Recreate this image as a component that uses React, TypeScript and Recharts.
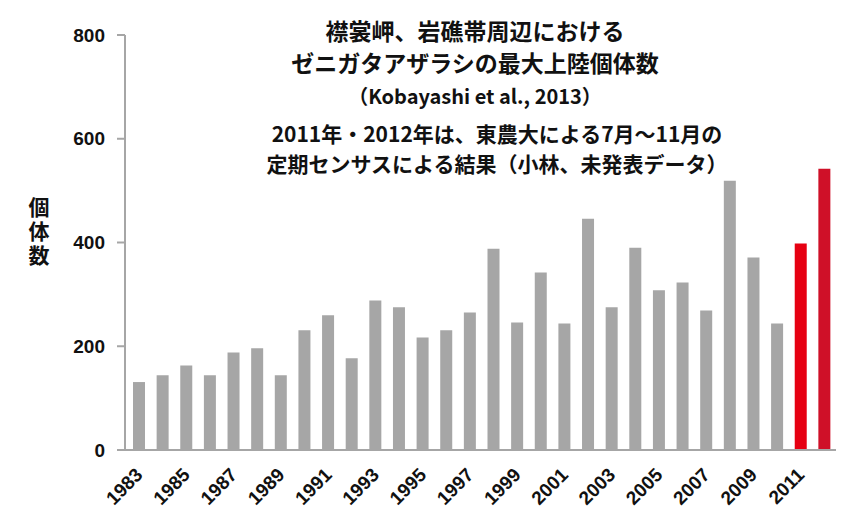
import React from "react";
import { BarChart, Bar, XAxis, YAxis, Cell } from "recharts";

const years = [
  "1983", "1984", "1985", "1986", "1987", "1988", "1989", "1990", "1991", "1992",
  "1993", "1994", "1995", "1996", "1997", "1998", "1999", "2000", "2001", "2002",
  "2003", "2004", "2005", "2006", "2007", "2008", "2009", "2010", "2011", "2012",
];

const counts = [
  131, 144, 163, 144, 188, 196, 144, 231, 260, 177,
  288, 275, 217, 231, 265, 388, 246, 342, 244, 446,
  275, 390, 308, 323, 269, 519, 371, 244, 398, 542,
];

// 2011-2012 are the 東農大 census values (drawn red)
const barColors: Record<string, string> = {
  "2011": "#e60012",
  "2012": "#cf1028",
};

const yTicks = [0, 200, 400, 600, 800];

const titleLines = [
  "襟裳岬、岩礁帯周辺における",
  "ゼニガタアザラシの最大上陸個体数",
  "（Kobayashi et al., 2013）",
];

const noteLines = [
  "2011年・2012年は、東農大による7月～11月の",
  "定期センサスによる結果（小林、未発表データ）",
];

const data = years.map((year, i) => ({ year, count: counts[i] }));

const jp = '"Noto Sans CJK JP", "Noto Sans", sans-serif';
const num = '"Liberation Sans", Arial, sans-serif';

const YearTick = (props: any) => {
  const { x, y, payload } = props;
  return (
    <g transform={`translate(${x + 5},${y + 24})`}>
      <text
        textAnchor="end"
        transform="rotate(-45)"
        fontFamily={num}
        fontWeight="bold"
        fontSize={19}
        fill="#111"
      >
        {payload.value}
      </text>
    </g>
  );
};

export default function App() {
  return (
    <div
      style={{
        position: "relative",
        width: 853,
        height: 530,
        marginLeft: -8,
        marginTop: -8,
        background: "#fff",
        overflow: "hidden",
      }}
    >
      <BarChart
        width={853}
        height={530}
        data={data}
        margin={{ top: 35, right: 17, bottom: 0, left: 0 }}
      >
        <XAxis
          dataKey="year"
          interval={1}
          height={80}
          padding={{ left: 2 }}
          axisLine={{ stroke: "#a6a6a6", strokeWidth: 2 }}
          tickLine={false}
          tickSize={0}
          tick={<YearTick />}
        />
        <YAxis
          width={125}
          domain={[0, 800]}
          ticks={yTicks}
          axisLine={{ stroke: "#a6a6a6", strokeWidth: 2 }}
          tickLine={{ stroke: "#a6a6a6", strokeWidth: 2 }}
          tickSize={8}
          tickMargin={12}
          tick={{ fontFamily: num, fontWeight: "bold", fontSize: 19, fill: "#111" }}
        />
        <Bar dataKey="count" barSize={12} isAnimationActive={false}>
          {data.map((d) => (
            <Cell key={d.year} fill={barColors[d.year] ?? "#a6a6a6"} />
          ))}
        </Bar>
      </BarChart>

      {/* frame lines */}
      <div style={{ position: "absolute", left: 0, top: 1, width: 853, height: 3, background: "#000" }} />
      <div style={{ position: "absolute", left: 5, top: 0, width: 2, height: 530, background: "#000" }} />

      {/* y axis title, vertical */}
      <div
        style={{
          position: "absolute",
          left: 26,
          top: 197,
          width: 26,
          height: 76,
          writingMode: "vertical-rl",
          fontFamily: jp,
          fontWeight: "bold",
          fontSize: 21,
          lineHeight: "26px",
          letterSpacing: 3,
          color: "#111",
        }}
      >
        個体数
      </div>

      {/* title block */}
      {titleLines.map((t, i) => (
        <div
          key={t}
          style={{
            position: "absolute",
            left: 225,
            width: 500,
            top: [17, 49, 83][i],
            textAlign: "center",
            fontFamily: jp,
            fontWeight: "bold",
            fontSize: i === 2 ? 20 : 23,
            lineHeight: "26px",
            color: "#111",
            whiteSpace: "nowrap",
          }}
        >
          {t}
        </div>
      ))}

      {noteLines.map((t, i) => (
        <div
          key={t}
          style={{
            position: "absolute",
            left: 197,
            width: 600,
            top: [120, 150][i],
            textAlign: "center",
            fontFamily: jp,
            fontWeight: "bold",
            fontSize: 21,
            lineHeight: "26px",
            color: "#111",
            whiteSpace: "nowrap",
          }}
        >
          {t}
        </div>
      ))}
    </div>
  );
}
